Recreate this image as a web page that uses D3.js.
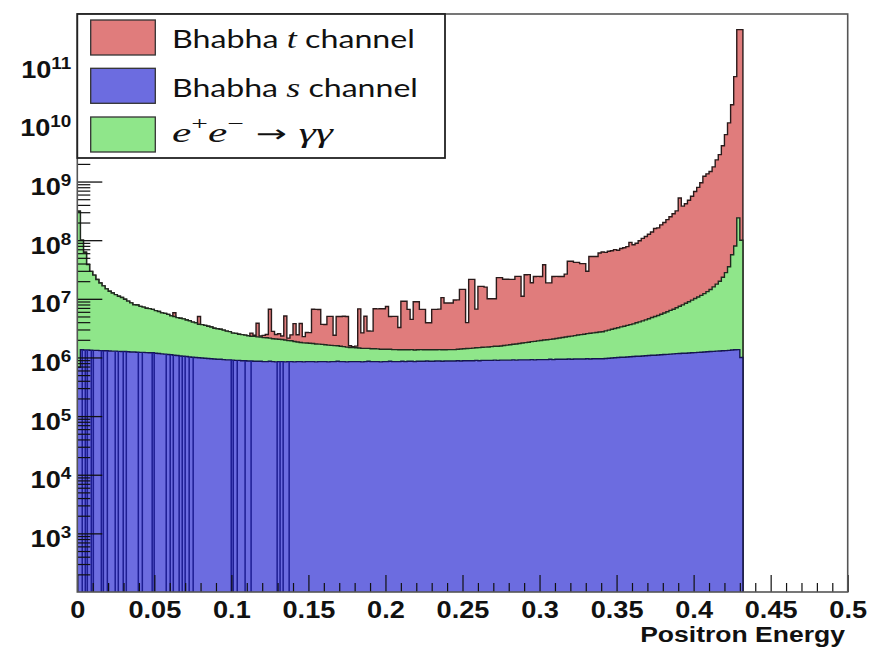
<!DOCTYPE html>
<html><head><meta charset="utf-8">
<script src="https://cdn.jsdelivr.net/npm/d3@7/dist/d3.min.js"></script>
<style>body{margin:0;background:#fff}</style>
</head><body>
<svg id="c" width="872" height="650"></svg>
<script>
// ---------------- data ----------------
const binWidth = 0.002; // histogram bin width in positron energy
const seriesKeys = ["s", "gg", "t"];
const seriesColors = { t: "#e07c7c", s: "#6c6ce0", gg: "#8fe68a" };

// Bhabha t channel (counts per bin)
const tChannel = [
 0,0,0,0,0,0,0,0,0,0,
 0,0,0,0,0,0,0,0,0,0,
 0,0,0,0,0,0,0,0,0,0,
 0,8e5,0,0,0,0,0,0,0,1.3e6,
 0,0,0,0,0,0,0,0,0,0,
 0,0,0,0,0,0,3e5,1e5,1.6e6,1e5,
 2e5,3e5,4.5e6,7e5,4e5,5e5,3e5,3.1e6,2e5,5e5,
 1.9e6,6e5,2.0e6,5e5,9e5,9e5,4.9e6,4.9e6,4.9e6,2.0e6,
 2.0e6,3.4e6,3.4e6,8e5,3.4e6,3.45e6,3.5e6,3.5e6,1e5,5e4,
 1e5,5.3e6,1.2e6,3.6e6,1.4e6,1.4e6,5.35e6,5.35e6,5.4e6,5.4e6,
 6.0e6,3.6e6,3.65e6,3.65e6,1.9e6,7.75e6,7.75e6,5.25e6,3.1e6,7.55e6,
 7.55e6,5.25e6,5.25e6,2.55e6,2.55e6,5.25e6,5.25e6,5.3e6,9.15e6,7.15e6,
 7.15e6,7.15e6,8.2e6,8.2e6,1.31e7,1.31e7,2.5e6,2.0e7,2.0e7,5.2e6,
 1.48e7,1.48e7,1.43e7,8.5e6,8.5e6,8.5e6,2.14e7,2.14e7,1.99e7,1.99e7,
 1.98e7,1.98e7,2.24e7,2.24e7,9.3e6,2.4e7,2.4e7,1.69e7,2.22e7,2.22e7,
 2.21e7,3.61e7,1.67e7,1.67e7,2.2e7,2.2e7,2.19e7,2.19e7,2.41e7,4.15e7,
 4.15e7,3.94e7,3.94e7,3.74e7,3.74e7,2.7e7,5.0e7,5.0e7,5.0e7,5.76e7,
 6.0e7,5.9e7,6.2e7,6.3e7,6.6e7,6.4e7,6.9e7,7.1e7,7.4e7,8.8e7,
 8.0e7,8.5e7,9.4e7,1.03e8,1.11e8,1.22e8,1.33e8,1.53e8,1.57e8,1.77e8,
 1.95e8,2.18e8,2.45e8,2.76e8,3.09e8,5.18e8,3.73e8,4.09e8,4.7e8,5.53e8,
 6.66e8,7.84e8,9.44e8,1.22e9,1.34e9,1.47e9,1.76e9,2.32e9,2.86e9,4.05e9,
 6.28e9,9.97e9,2.03e10,6.16e10,3.89e11,3.89e11
];

// Bhabha s channel (counts per bin)
const sChannel = [
 6.8e5,1.35e6,1.34e6,1.34e6,1.33e6,1.32e6,1.32e6,1.31e6,1.30e6,1.30e6,
 1.29e6,1.28e6,1.28e6,1.27e6,1.26e6,1.26e6,1.25e6,1.24e6,1.24e6,1.23e6,
 1.22e6,1.22e6,1.21e6,1.20e6,1.20e6,1.18e6,1.17e6,1.15e6,1.14e6,1.12e6,
 1.11e6,1.09e6,1.08e6,1.06e6,1.05e6,1.04e6,1.02e6,1.01e6,1.00e6,9.9e5,
 9.8e5,9.7e5,9.6e5,9.5e5,9.4e5,9.3e5,9.3e5,9.2e5,9.1e5,9.1e5,
 9.0e5,8.9e5,8.9e5,8.8e5,8.8e5,8.7e5,8.7e5,8.6e5,8.6e5,8.6e5,
 8.5e5,8.5e5,8.6e5,8.5e5,8.4e5,8.5e5,8.5e5,8.4e5,8.5e5,8.5e5,
 8.4e5,8.5e5,8.5e5,8.4e5,8.5e5,8.5e5,8.5e5,8.4e5,8.5e5,8.5e5,
 8.5e5,8.4e5,8.5e5,8.5e5,8.6e5,8.5e5,8.5e5,8.4e5,8.5e5,8.5e5,
 8.5e5,8.5e5,8.4e5,8.5e5,8.6e5,8.5e5,8.5e5,8.5e5,8.4e5,8.5e5,
 8.5e5,8.6e5,8.5e5,8.5e5,8.5e5,8.6e5,8.5e5,8.6e5,8.6e5,8.5e5,
 8.6e5,8.6e5,8.6e5,8.7e5,8.6e5,8.6e5,8.7e5,8.7e5,8.6e5,8.7e5,
 8.7e5,8.7e5,8.7e5,8.8e5,8.7e5,8.8e5,8.8e5,8.8e5,8.8e5,8.9e5,
 8.8e5,8.9e5,8.9e5,8.9e5,8.9e5,9.0e5,8.9e5,9.0e5,9.0e5,9.0e5,
 9.0e5,9.1e5,9.0e5,9.1e5,9.1e5,9.1e5,9.1e5,9.2e5,9.1e5,9.2e5,
 9.2e5,9.2e5,9.2e5,9.3e5,9.2e5,9.3e5,9.3e5,9.3e5,9.3e5,9.4e5,
 9.3e5,9.4e5,9.4e5,9.4e5,9.4e5,9.5e5,9.4e5,9.5e5,9.5e5,9.5e5,
 9.5e5,9.6e5,9.7e5,9.8e5,9.9e5,1.00e6,1.01e6,1.01e6,1.02e6,1.03e6,
 1.04e6,1.05e6,1.05e6,1.06e6,1.07e6,1.08e6,1.09e6,1.09e6,1.10e6,1.11e6,
 1.12e6,1.13e6,1.14e6,1.15e6,1.16e6,1.17e6,1.18e6,1.18e6,1.19e6,1.20e6,
 1.21e6,1.22e6,1.23e6,1.24e6,1.25e6,1.26e6,1.27e6,1.28e6,1.29e6,1.30e6,
 1.31e6,1.32e6,1.34e6,1.35e6,1.36e6,1.0e6
];

// e+e- -> gamma gamma (counts per bin)
const gammaGamma = [
 3.1e8,9.9e7,6.1e7,3.7e7,2.8e7,2.4e7,2.0e7,1.73e7,1.53e7,1.35e7,
 1.22e7,1.13e7,1.05e7,9.8e6,9.3e6,8.6e6,7.9e6,7.3e6,6.7e6,6.6e6,
 6.2e6,6.0e6,5.7e6,5.6e6,5.4e6,5.1e6,4.9e6,4.6e6,4.5e6,4.3e6,
 4.0e6,3.9e6,3.7e6,3.6e6,3.5e6,3.3e6,3.2e6,3.0e6,2.9e6,2.7e6,
 2.65e6,2.55e6,2.45e6,2.35e6,2.2e6,2.15e6,2.1e6,2.0e6,1.9e6,1.85e6,
 1.7e6,1.68e6,1.6e6,1.57e6,1.52e6,1.47e6,1.43e6,1.43e6,1.38e6,1.37e6,
 1.33e6,1.32e6,1.28e6,1.24e6,1.23e6,1.19e6,1.17e6,1.15e6,1.09e6,1.08e6,
 1.03e6,9.9e5,9.5e5,9.3e5,9.1e5,9.0e5,8.8e5,8.6e5,8.4e5,8.2e5,
 8.0e5,7.8e5,7.6e5,7.4e5,7.2e5,7.0e5,6.8e5,6.6e5,6.3e5,6.2e5,
 6.1e5,6.0e5,5.9e5,5.8e5,5.7e5,5.6e5,5.6e5,5.5e5,5.4e5,5.3e5,
 5.3e5,5.2e5,5.1e5,5.1e5,5.0e5,4.9e5,5.0e5,4.9e5,5.0e5,4.9e5,
 4.9e5,5.0e5,4.9e5,4.8e5,4.9e5,4.9e5,4.8e5,4.9e5,4.9e5,4.8e5,
 4.9e5,4.9e5,4.9e5,5.0e5,5.2e5,5.3e5,5.4e5,5.5e5,5.6e5,5.7e5,
 5.9e5,6.0e5,6.1e5,6.2e5,6.4e5,6.5e5,6.6e5,6.7e5,7.0e5,7.2e5,
 7.5e5,7.7e5,8.0e5,8.2e5,8.5e5,8.8e5,9.1e5,9.4e5,9.7e5,1.0e6,
 1.03e6,1.06e6,1.08e6,1.1e6,1.14e6,1.18e6,1.22e6,1.26e6,1.30e6,1.34e6,
 1.38e6,1.42e6,1.47e6,1.51e6,1.55e6,1.6e6,1.64e6,1.68e6,1.72e6,1.76e6,
 1.8e6,1.88e6,1.96e6,2.04e6,2.13e6,2.22e6,2.31e6,2.4e6,2.5e6,2.6e6,
 2.7e6,2.85e6,3.0e6,3.15e6,3.3e6,3.5e6,3.7e6,3.9e6,4.1e6,4.35e6,
 4.6e6,4.9e6,5.2e6,5.5e6,5.9e6,6.3e6,6.7e6,7.2e6,7.7e6,8.3e6,
 8.9e6,9.5e6,1.02e7,1.1e7,1.2e7,1.32e7,1.47e7,1.65e7,1.87e7,2.2e7,
 2.67e7,3.4e7,5.5e7,7.8e7,2.39e8,9.9e7
];

// energies where the s-channel histogram has empty (zero) narrow bins
const sEmptyAt = [0.0032,0.0052,0.0065,0.0091,0.0104,0.0156,0.0169,0.0195,0.0246,0.0266,
 0.0298,0.0318,0.0396,0.0422,0.0486,0.0499,0.0577,0.0603,0.0623,0.0661,0.0681,0.0700,
 0.0726,0.0752,0.0999,0.1012,0.1038,0.1089,0.1128,0.1297,0.1316,0.1336,0.1375];

const xTicks = [0,0.05,0.1,0.15,0.2,0.25,0.3,0.35,0.4,0.45,0.5];
const xTickLabels = ["0","0.05","0.1","0.15","0.2","0.25","0.3","0.35","0.4","0.45","0.5"];
const yTickExp = [3,4,5,6,7,8,9,10,11];
const xTitle = "Positron Energy";
const legendLabels = [
  {key:"t", parts:[{s:"Bhabha "},{s:"t",it:1},{s:" channel"}]},
  {key:"s", parts:[{s:"Bhabha "},{s:"s",it:1},{s:" channel"}]},
  {key:"gg", parts:[{s:"e",it:1},{s:"+",sup:1},{s:"e",it:1},{s:"\u2212",sup:1},{s:" \u2192 ",math:1},{s:"\u03B3\u03B3",it:1}]}
];

// ---------------- drawing ----------------
const svg = d3.select("#c");
const plotL = 77.3, plotR = 847.7, plotT = 14, plotB = 592;
const x = d3.scaleLinear().domain([0, 0.5]).range([plotL, plotR]);
const y = d3.scaleLog().domain([1e2, 7.2e11]).range([plotB, plotT]);
const floorV = y.domain()[0];

svg.append("defs").append("clipPath").attr("id","clip")
  .append("rect").attr("x",plotL).attr("y",plotT).attr("width",plotR-plotL).attr("height",plotB-plotT);

const rows = tChannel.map((t,i)=>({e:i*binWidth, s:sChannel[i], gg:gammaGamma[i], t:t}));
const layers = d3.stack().keys(seriesKeys)(rows);
const endE = rows.length*binWidth;

const gh = svg.append("g").attr("clip-path","url(#clip)");
const area = d3.area().x(d=>x(d[0])).y0(plotB).y1(d=>y(Math.max(d[1],floorV))).curve(d3.curveStepAfter);
const line = d3.line().x(d=>x(d[0])).y(d=>y(Math.max(d[1],floorV))).curve(d3.curveStepAfter);

layers.slice().reverse().forEach(L=>{
  const pts = L.map((d,i)=>[rows[i].e, d[1]]);
  pts.push([endE, L[L.length-1][1]]);
  gh.append("path").attr("d",area(pts)).attr("fill",seriesColors[L.key]);
  gh.append("path").attr("d",line([[0,floorV]].concat(pts,[[endE,floorV]])))
    .attr("fill","none").attr("stroke", L.key==="s" ? "#15154f" : (L.key==="gg" ? "#1f2a1f" : "#2a1a1a"))
    .attr("stroke-width",1.4);
});

sEmptyAt.forEach(e=>{
  const i = Math.floor(e/binWidth);
  gh.append("line").attr("x1",x(e)).attr("x2",x(e))
    .attr("y1",y(sChannel[i])).attr("y2",plotB)
    .attr("stroke","#1d1d92").attr("stroke-width",1.5);
});

// axes
const fontAx = "'Liberation Sans', Arial, sans-serif";
const xMinor = d3.range(1,50).filter(k=>k%5!==0).map(k=>k/100);
svg.append("g").attr("transform",`translate(0,${plotB})`)
  .call(d3.axisBottom(x).tickValues(xMinor).tickSize(-9).tickFormat(()=>""))
  .call(g=>{g.select(".domain").remove(); g.selectAll("line").attr("stroke","#111").attr("stroke-width",1.2);});
const xAx = svg.append("g").attr("transform",`translate(0,${plotB})`)
  .call(d3.axisBottom(x).tickValues(xTicks).tickSize(-17).tickPadding(9.7).tickFormat((d,i)=>xTickLabels[i]));
xAx.select(".domain").remove();
xAx.selectAll("line").attr("stroke","#111").attr("stroke-width",1.2);
xAx.selectAll("text").attr("font-family",fontAx).attr("font-weight","bold").attr("font-size",23)
  .attr("fill","#111").attr("transform","scale(1.18,1)");

const yMinor = [];
for (let e=2;e<=11;e++) for (let k=2;k<=9;k++){ const v=k*Math.pow(10,e); if (v<y.domain()[1]) yMinor.push(v); }
svg.append("g").attr("transform",`translate(${plotL},0)`)
  .call(d3.axisLeft(y).tickValues(yMinor).tickSize(-13).tickFormat(()=>""))
  .call(g=>{g.select(".domain").remove(); g.selectAll("line").attr("stroke","#111").attr("stroke-width",1.2);});
const yAx = svg.append("g").attr("transform",`translate(${plotL},0)`)
  .call(d3.axisLeft(y).tickValues(yTickExp.map(e=>Math.pow(10,e))).tickSize(-25).tickPadding(6).tickFormat(()=>"10"));
yAx.select(".domain").remove();
yAx.selectAll("line").attr("stroke","#111").attr("stroke-width",1.3);
yAx.selectAll(".tick text").each(function(d,i){
  const t = d3.select(this);
  t.attr("dy",null).attr("x",0).attr("y",13)
   .attr("transform","translate(-6,0) scale(1.18,1)")
   .attr("font-family",fontAx).attr("font-weight","bold").attr("font-size",23).attr("fill","#111");
  t.append("tspan").attr("dy",-9).attr("font-size",16).text(yTickExp[i]);
});

// frame
svg.append("rect").attr("x",plotL).attr("y",plotT).attr("width",plotR-plotL).attr("height",plotB-plotT)
  .attr("fill","none").attr("stroke","#555").attr("stroke-width",1.6);

// axis title
const xt = svg.append("text").attr("x",0).attr("y",0).attr("text-anchor","end")
  .attr("font-family",fontAx).attr("font-weight","bold").attr("font-size",22).attr("fill","#111").text(xTitle);
{ const w = xt.node().getComputedTextLength(); xt.attr("transform",`translate(845,641.5) scale(${205/w},1)`); }

// legend
const lg = svg.append("g");
lg.append("rect").attr("x",plotL).attr("y",plotT).attr("width",445-plotL).attr("height",158-plotT)
  .attr("fill","#fff").attr("stroke","#222").attr("stroke-width",1.8);
const rowY = [20, 68.3, 117], baseY = [48.3, 96.7, 141.7], targetW = [243, 246, 161];
legendLabels.forEach((L,r)=>{
  lg.append("rect").attr("x",90.7).attr("y",rowY[r]).attr("width",64.6).attr("height",35)
    .attr("fill",seriesColors[L.key]).attr("stroke","#333").attr("stroke-width",1.3);
  const t = lg.append("text").attr("x",0).attr("y",0).attr("fill","#111");
  L.parts.forEach((p,j)=>{
    const ts = t.append("tspan").text(p.s);
    if (p.it) ts.attr("font-family","'Liberation Serif','DejaVu Serif',serif").attr("font-style","italic").attr("font-size",28);
    else if (p.sup) ts.attr("font-family","'Liberation Serif','DejaVu Serif',serif").attr("font-size",19).attr("dy",-12);
    else if (p.math) ts.attr("font-family","'DejaVu Sans',sans-serif").attr("font-size",24);
    else ts.attr("font-family","Lato, 'Open Sans', sans-serif").attr("font-size",25);
    const prev = L.parts[j-1];
    if (prev && prev.sup && !p.sup) ts.attr("dy",12);
  });
  const w = t.node().getComputedTextLength();
  t.attr("transform",`translate(172,${baseY[r]}) scale(${targetW[r]/w},1)`);
});
</script>
</body></html>
